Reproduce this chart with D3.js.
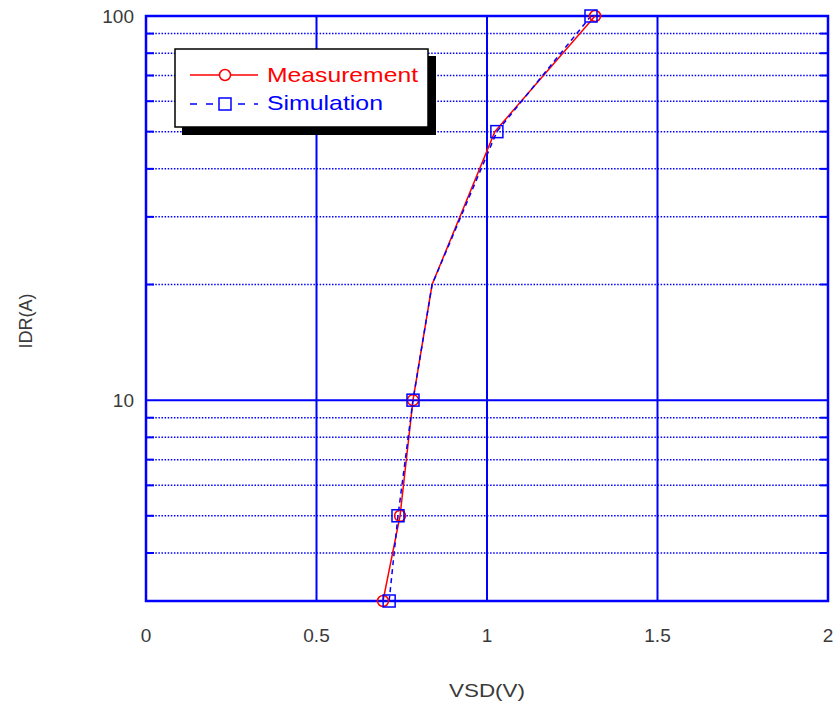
<!DOCTYPE html>
<html>
<head>
<meta charset="utf-8">
<style>
  body { margin: 0; background: #fff; }
  text { font-family: "Liberation Sans", Arial, sans-serif; }
</style>
<script src="https://d3js.org/d3.v7.min.js"></script>
</head>
<body>
<svg width="838" height="704"></svg>
<script>
  // data
  const measX = [0.695, 0.745, 0.783, 0.839, 1.023, 1.317];
  const measY = [3, 5, 10, 20, 50, 100];
  const measMarked = [true, true, true, false, false, true];
  const simX = [0.713, 0.739, 0.783, 0.839, 1.029, 1.305];
  const simY = [3, 5, 10, 20, 50, 100];
  const simMarked = [true, true, true, false, true, true];
  const xTicks = [0, 0.5, 1, 1.5, 2];
  const yMajor = [10, 100];
  const yMinor = [4, 5, 6, 7, 8, 9, 20, 30, 40, 50, 60, 70, 80, 90];

  const pL = 146, pR = 828, pT = 16, pB = 601;
  const blue = '#0000ff', red = '#ff0000', ink = '#3a3a3a';

  const x = d3.scaleLinear().domain([0, 2]).range([pL, pR]);
  const y = d3.scaleLog().domain([3, 100]).range([pB, pT]);

  const svg = d3.select('svg');

  // minor dotted grid
  svg.selectAll('.minor')
    .data(yMinor)
    .enter()
    .append('line')
    .attr('x1', pL).attr('x2', pR)
    .attr('y1', d => y(d)).attr('y2', d => y(d))
    .attr('stroke', blue).attr('stroke-width', 1.5)
    .attr('stroke-dasharray', '1.5,1.6');
  // short ticks on both sides
  yMinor.forEach(d => {
    svg.append('line').attr('x1', pL).attr('x2', pL + 8)
      .attr('y1', y(d)).attr('y2', y(d)).attr('stroke', blue).attr('stroke-width', 2);
    svg.append('line').attr('x1', pR - 8).attr('x2', pR)
      .attr('y1', y(d)).attr('y2', y(d)).attr('stroke', blue).attr('stroke-width', 2);
  });

  // major grid
  svg.selectAll('.major')
    .data(yMajor)
    .enter()
    .append('line')
    .attr('x1', pL).attr('x2', pR)
    .attr('y1', d => y(d)).attr('y2', d => y(d))
    .attr('stroke', blue).attr('stroke-width', 2);
  svg.selectAll('.vgrid')
    .data(xTicks.slice(1, -1))
    .enter()
    .append('line')
    .attr('x1', d => x(d)).attr('x2', d => x(d))
    .attr('y1', pT).attr('y2', pB)
    .attr('stroke', blue).attr('stroke-width', 2);

  svg.append('rect')
    .attr('x', pL).attr('y', pT)
    .attr('width', pR - pL).attr('height', pB - pT)
    .attr('fill', 'none').attr('stroke', blue).attr('stroke-width', 2.5);

  // tick labels
  svg.selectAll('.xl')
    .data(xTicks)
    .enter()
    .append('text')
    .attr('x', d => x(d)).attr('y', 642)
    .attr('text-anchor', 'middle')
    .attr('font-size', 19).attr('fill', ink)
    .text(d => d);
  svg.selectAll('.yl')
    .data(yMajor)
    .enter()
    .append('text')
    .attr('x', 134).attr('y', d => y(d) + 7)
    .attr('text-anchor', 'end')
    .attr('font-size', 19).attr('fill', ink)
    .text(d => d);

  svg.append('text').attr('x', x(1)).attr('y', 697)
    .attr('text-anchor', 'middle').attr('font-size', 19).attr('fill', ink)
    .attr('textLength', 76).attr('lengthAdjust', 'spacingAndGlyphs')
    .text('VSD(V)');
  svg.append('text')
    .attr('transform', 'translate(32,' + 321 + ') rotate(-90)')
    .attr('text-anchor', 'middle').attr('font-size', 18).attr('fill', ink)
    .text('IDR(A)');

  const line = d3.line().x(d => x(d[0])).y(d => y(d[1]));
  const meas = measX.map((v, i) => [v, measY[i], measMarked[i]]);
  const sim = simX.map((v, i) => [v, simY[i], simMarked[i]]);

  svg.append('path').datum(meas).attr('d', line)
    .attr('fill', 'none').attr('stroke', red).attr('stroke-width', 1.5);
  svg.append('path').datum(sim).attr('d', line)
    .attr('fill', 'none').attr('stroke', blue).attr('stroke-width', 1.5)
    .attr('stroke-dasharray', '5,4');

  svg.selectAll('.circ')
    .data(meas.filter(d => d[2]))
    .enter()
    .append('circle')
    .attr('cx', d => x(d[0])).attr('cy', d => y(d[1])).attr('r', 5.5)
    .attr('fill', 'none').attr('stroke', red).attr('stroke-width', 1.5);
  svg.selectAll('.sq')
    .data(sim.filter(d => d[2]))
    .enter()
    .append('rect')
    .attr('x', d => x(d[0]) - 6).attr('y', d => y(d[1]) - 6)
    .attr('width', 12).attr('height', 12)
    .attr('fill', 'none').attr('stroke', blue).attr('stroke-width', 1.5);

  // legend
  const lg = svg.append('g');
  lg.append('rect').attr('x', 182).attr('y', 56).attr('width', 254).attr('height', 79).attr('fill', '#000');
  lg.append('rect').attr('x', 175).attr('y', 49).attr('width', 253).attr('height', 78)
    .attr('fill', '#fff').attr('stroke', '#000').attr('stroke-width', 1.5);
  lg.append('line').attr('x1', 190).attr('x2', 258).attr('y1', 75).attr('y2', 75)
    .attr('stroke', red).attr('stroke-width', 1.5);
  lg.append('circle').attr('cx', 225).attr('cy', 75).attr('r', 5.5)
    .attr('fill', '#fff').attr('stroke', red).attr('stroke-width', 1.5);
  lg.append('text').attr('x', 267).attr('y', 82).attr('font-size', 21).attr('fill', red)
    .attr('textLength', 151).attr('lengthAdjust', 'spacingAndGlyphs').text('Measurement');
  lg.append('line').attr('x1', 190).attr('x2', 258).attr('y1', 104).attr('y2', 104)
    .attr('stroke', blue).attr('stroke-width', 1.5).attr('stroke-dasharray', '7,9');
  lg.append('rect').attr('x', 219).attr('y', 98).attr('width', 12).attr('height', 12)
    .attr('fill', '#fff').attr('stroke', blue).attr('stroke-width', 1.5);
  lg.append('text').attr('x', 267).attr('y', 110).attr('font-size', 21).attr('fill', blue)
    .attr('textLength', 116).attr('lengthAdjust', 'spacingAndGlyphs').text('Simulation');
</script>
</body>
</html>
